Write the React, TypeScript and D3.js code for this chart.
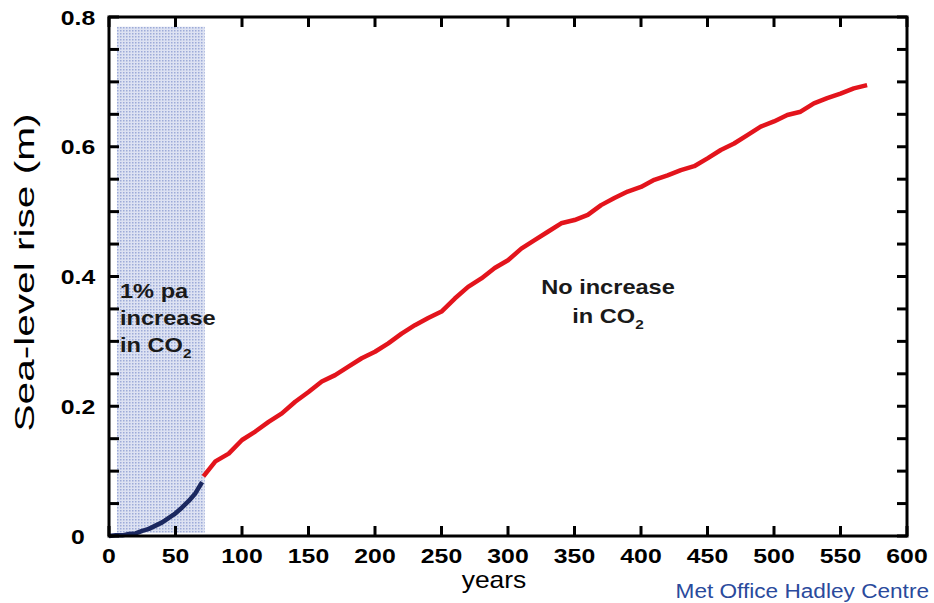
import React from "react";
import { scaleLinear, line, range } from "d3";

const width = 934;
const height = 603;

// plot frame (pixels)
const frame = { left: 109, right: 907, top: 17, bottom: 536 };

// the image is stretched sideways, so the text is too
const textStretch = 1.18;

const red = "#e3141c";
const navy = "#1b2860";
const blueText = "#2a4a9c";

// Data
const forcedYears = [0, 5, 10, 15, 20, 25, 30, 35, 40, 45, 50, 55, 60, 65, 70];
const forcedRise = [0, 0.001, 0.001, 0.003, 0.004, 0.008, 0.011, 0.016, 0.021, 0.028, 0.035, 0.044, 0.054, 0.066, 0.083];

const stableYears = [
  71, 80, 90, 100, 110, 120, 130, 140, 150, 160, 170, 180, 190, 200, 210, 220, 230, 240, 250,
  260, 270, 280, 290, 300, 310, 320, 330, 340, 350, 360, 370, 380, 390, 400, 410, 420, 430, 440,
  450, 460, 470, 480, 490, 500, 510, 520, 530, 540, 550, 560, 570,
];
const stableRise = [
  0.092, 0.115, 0.127, 0.148, 0.161, 0.176, 0.189, 0.207, 0.222, 0.238, 0.248, 0.261, 0.274, 0.284, 0.297, 0.312, 0.325, 0.336, 0.346,
  0.366, 0.384, 0.397, 0.413, 0.425, 0.443, 0.456, 0.469, 0.482, 0.487, 0.495, 0.51, 0.521, 0.531, 0.538, 0.549, 0.556, 0.564, 0.57,
  0.582, 0.595, 0.605, 0.618, 0.631, 0.639, 0.649, 0.654, 0.667, 0.675, 0.682, 0.69, 0.695,
];

// shaded "1% pa" period
const shadeYears = [6, 72];
const shadeRise = [0.005, 0.785];

const xTicks = [0, 50, 100, 150, 200, 250, 300, 350, 400, 450, 500, 550, 600];
const yTicks = [0, 0.2, 0.4, 0.6, 0.8];
const yTickLabels = ["0", "0.2", "0.4", "0.6", "0.8"];
const yMinorStep = 0.05;

const xAxisLabel = "years";
const yAxisLabel = "Sea-level rise (m)";
const credit = "Met Office Hadley Centre";

const font = "'Liberation Sans', Arial, sans-serif";
const tickLen = 10;

// text squeezed/stretched horizontally like the source image
const SText = ({ x, y, anchor = "start", sx = textStretch, children, ...rest }: any) => (
  <g transform={`translate(${x},${y}) scale(${sx},1)`}>
    <text textAnchor={anchor} fontFamily={font} {...rest}>
      {children}
    </text>
  </g>
);

const toPoints = (xs: number[], ys: number[]) => xs.map((d, i) => [d, ys[i]] as [number, number]);

export default function App() {
  const xScale = scaleLinear().domain([0, 600]).range([frame.left, frame.right]);
  const yScale = scaleLinear().domain([0, 0.8]).range([frame.bottom, frame.top]);

  const lineGen = line<[number, number]>()
    .x((d) => xScale(d[0]))
    .y((d) => yScale(d[1]));

  const yMinor = range(0, 0.8 + 1e-9, yMinorStep);

  return (
    <svg
      width={width}
      height={height}
      style={{ position: "absolute", left: 0, top: 0, background: "#fff" }}
    >
      <defs>
        <pattern id="dots" width="3" height="3" patternUnits="userSpaceOnUse">
          <rect width="3" height="3" fill="#dde2f2" />
          <rect width="1.5" height="1.5" fill="#9dabd8" />
        </pattern>
      </defs>

      {/* shaded period */}
      <rect
        x={xScale(shadeYears[0])}
        y={yScale(shadeRise[1])}
        width={xScale(shadeYears[1]) - xScale(shadeYears[0])}
        height={yScale(shadeRise[0]) - yScale(shadeRise[1])}
        fill="url(#dots)"
      />

      {/* series */}
      <path
        d={lineGen(toPoints(stableYears, stableRise)) || ""}
        fill="none"
        stroke={red}
        strokeWidth={4.5}
        strokeLinejoin="round"
      />
      <path
        d={lineGen(toPoints(forcedYears, forcedRise)) || ""}
        fill="none"
        stroke={navy}
        strokeWidth={4.5}
        strokeLinejoin="round"
      />

      {/* frame + ticks (all pointing inward) */}
      <rect
        x={frame.left}
        y={frame.top}
        width={frame.right - frame.left}
        height={frame.bottom - frame.top}
        fill="none"
        stroke="#000"
        strokeWidth={3}
      />
      {xTicks.map((t) => (
        <g key={`x${t}`} stroke="#000" strokeWidth={3}>
          <line x1={xScale(t)} x2={xScale(t)} y1={frame.bottom} y2={frame.bottom - tickLen} />
          <line x1={xScale(t)} x2={xScale(t)} y1={frame.top} y2={frame.top + tickLen} />
        </g>
      ))}
      {yMinor.map((t) => (
        <g key={`y${t}`} stroke="#000" strokeWidth={3}>
          <line x1={frame.left} x2={frame.left + tickLen} y1={yScale(t)} y2={yScale(t)} />
          <line x1={frame.right} x2={frame.right - tickLen} y1={yScale(t)} y2={yScale(t)} />
        </g>
      ))}

      {/* tick labels */}
      {xTicks.map((t) => (
        <SText key={`xl${t}`} x={xScale(t)} y={563} anchor="middle" fontSize={21} fontWeight="bold">
          {t}
        </SText>
      ))}
      {yTicks.map((t, i) => (
        <SText key={`yl${t}`} x={78} y={yScale(t)} anchor="middle" fontSize={21} fontWeight="bold" dy="0.36em">
          {yTickLabels[i]}
        </SText>
      ))}

      {/* axis titles */}
      <SText x={xScale(300) - 14} y={588} anchor="middle" fontSize={23} sx={1.15}>
        {xAxisLabel}
      </SText>
      <text
        transform={`translate(34,${(frame.top + frame.bottom) / 2 - 4}) rotate(-90)`}
        textAnchor="middle"
        fontFamily={font}
        fontSize={27}
        textLength={318}
        lengthAdjust="spacingAndGlyphs"
      >
        {yAxisLabel}
      </text>

      {/* annotations */}
      <g fontWeight="bold" fontSize={20} fill="#1a1a1a">
        <SText x={120} y={298}>1% pa</SText>
        <SText x={120} y={325}>increase</SText>
        <SText x={120} y={352}>
          in CO<tspan fontSize={13} dy={6}>2</tspan>
        </SText>
        <SText x={608} y={294} anchor="middle">No increase</SText>
        <SText x={608} y={323} anchor="middle">
          in CO<tspan fontSize={13} dy={6}>2</tspan>
        </SText>
      </g>

      <SText x={929} y={598} anchor="end" fontSize={19.5} sx={1.16} fill={blueText}>
        {credit}
      </SText>
    </svg>
  );
}
